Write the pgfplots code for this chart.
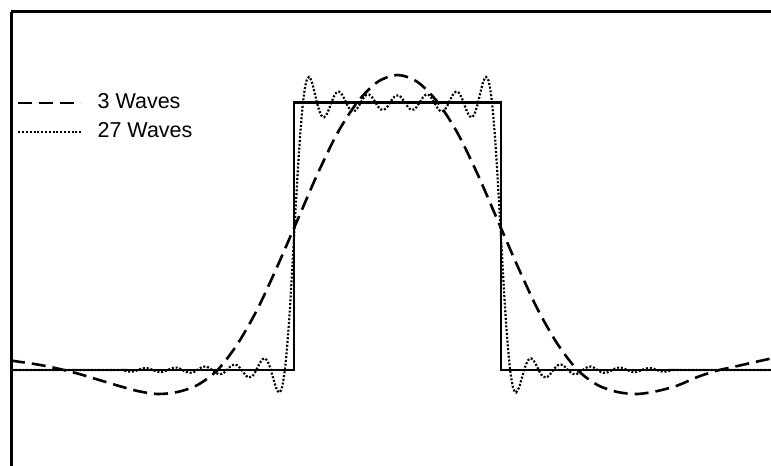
\documentclass[border=0pt]{standalone}
\usepackage{fontspec}
\setmainfont{Liberation Sans}
\usepackage{pgfplots}
\pgfplotsset{compat=1.18}
\begin{document}
\begin{tikzpicture}
\begin{axis}[
  x=0.5bp, y=0.5bp,
  xmin=11, xmax=771, ymin=-96, ymax=358,
  axis x line=top, axis y line=left,
  axis line style={-, line width=1.5bp},
  xtick=\empty, ytick=\empty,
  legend style={draw=none, fill=none, at={(axis cs:17,280)}, anchor=north west,
    inner sep=0pt, outer sep=0pt, font=\fontsize{10.8}{12.8}\selectfont, row sep=1.4bp,
    /tikz/every odd column/.append style={column sep=5.5bp}},
  legend cell align=left,
  legend image code/.code={\draw[#1] (0bp,0bp) -- (31.5bp,0bp);},
]
% square pulse
\addplot[forget plot, black, line width=1.1bp, line join=miter] coordinates {
(11,0) (294,0) (294,267.5) (501,267.5) (501,0) (771,0)};
% 3 waves (dashed)
\addplot[black, line width=1.3bp, dash pattern=on 7bp off 3.5bp, smooth] coordinates {
(11,9.5) (17.5,8.5) (37.5,5.5) (57.5,1.5) (77.5,-3.5) (97.5,-9.5) (117.5,-15.5)
(137.5,-21) (157.5,-24) (177.5,-22) (197.5,-15) (217.5,0) (237.5,26) (257.5,61)
(277.5,104) (297.5,150) (317.5,196) (337.5,237) (357.5,268) (377.5,288) (397.5,295)
(417.5,288) (437.5,268) (457.5,237) (477.5,196) (497.5,150) (517.5,104) (537.5,61)
(557.5,26) (577.5,0) (597.5,-15) (617.5,-22) (637.5,-24) (657.5,-21) (677.5,-15.5)
(697.5,-7) (717.5,-0.5) (737.5,4) (757.5,8.5) (771,11.5)};
\addlegendentry{3 Waves}
% 27 waves (dotted)
\addplot[black, line width=1.1bp, dash pattern=on 1bp off 0.9bp, smooth] coordinates {
(11,0) (120,0)
(123,0.07) (126,-0.92) (129,-1.58) (132,-1.65) (135,-1.06) (138,-0.03) (141,1.07)
(144,1.79) (147,1.83) (150,1.14) (153,-0.03) (156,-1.26) (159,-2.05) (162,-2.06)
(165,-1.23) (168,0.12) (171,1.52) (174,2.38) (177,2.34) (180,1.35) (183,-0.25)
(186,-1.85) (189,-2.82) (192,-2.70) (195,-1.49) (198,0.42) (201,2.31) (204,3.41)
(207,3.20) (210,1.66) (213,-0.69) (216,-2.97) (219,-4.25) (222,-3.90) (225,-1.89)
(228,1.13) (231,4.00) (234,5.46) (237,4.87) (240,2.16) (243,-1.83) (246,-5.61)
(249,-7.55) (252,-6.55) (255,-2.52) (258,3.34) (261,8.87) (264,11.60) (267,9.67)
(270,2.74) (273,-7.54) (276,-17.55) (279,-22.46) (282,-17.39) (285,1.16) (288,34.17)
(291,79.47) (294,132.19) (297,185.52) (300,232.46) (303,267.45) (306,287.54)
(309,293.12) (312,287.47) (315,275.75) (318,263.47) (321,255.03) (324,252.69)
(327,256.28) (330,263.61) (333,271.51) (336,277.01) (339,278.34) (342,275.42)
(345,269.72) (348,263.62) (351,259.44) (354,258.63) (357,261.21) (360,266.15)
(363,271.37) (366,274.86) (369,275.35) (372,272.76) (375,268.22) (378,263.52)
(381,260.48) (384,260.25) (387,262.87) (390,267.27) (393,271.72) (396,274.48)
(399,274.48) (402,271.72) (405,267.27) (408,262.87) (411,260.25) (414,260.48)
(417,263.52) (420,268.22) (423,272.76) (426,275.35) (429,274.86) (432,271.37)
(435,266.15) (438,261.21) (441,258.63) (444,259.44) (447,263.62) (450,269.72)
(453,275.42) (456,278.34) (459,277.01) (462,271.51) (465,263.61) (468,256.28)
(471,252.69) (474,255.03) (477,263.47) (480,275.75) (483,287.47) (486,293.12)
(489,287.54) (492,267.45) (495,232.46) (498,185.52) (501,132.19) (504,79.47)
(507,34.17) (510,1.16) (513,-17.39) (516,-22.46) (519,-17.55) (522,-7.54)
(525,2.74) (528,9.67) (531,11.60) (534,8.87) (537,3.34) (540,-2.52) (543,-6.55)
(546,-7.55) (549,-5.61) (552,-1.83) (555,2.16) (558,4.87) (561,5.46) (564,4.00)
(567,1.13) (570,-1.89) (573,-3.90) (576,-4.25) (579,-2.97) (582,-0.69) (585,1.66)
(588,3.20) (591,3.41) (594,2.31) (597,0.42) (600,-1.49) (603,-2.70) (606,-2.82)
(609,-1.85) (612,-0.25) (615,1.35) (618,2.34) (621,2.38) (624,1.52) (627,0.12)
(630,-1.23) (633,-2.06) (636,-2.05) (639,-1.26) (642,-0.03) (645,1.14) (648,1.83)
(651,1.79) (654,1.07) (657,-0.03) (660,-1.06) (663,-1.65) (666,-1.58) (669,-0.92)
(672,0.07) (675,0) (771,0)};
\addlegendentry{27 Waves}
\coordinate (bbA) at (axis cs:0,-96);
\coordinate (bbB) at (axis cs:771,370);
\end{axis}
\pgfresetboundingbox
\path (bbA) rectangle (bbB);
\end{tikzpicture}
\end{document}
